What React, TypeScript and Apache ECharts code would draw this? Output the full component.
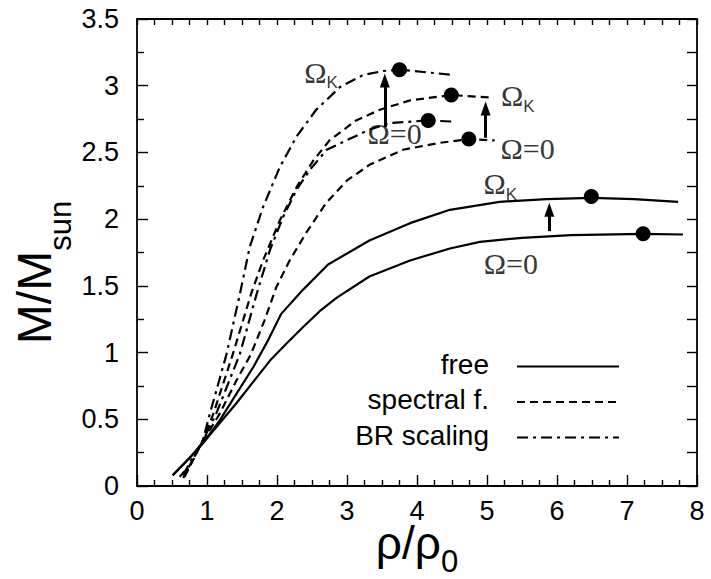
import React, { useEffect, useRef } from "react";
import * as echarts from "echarts";

// ---- data (x = rho/rho0, y = M/Msun) ----
const freeZero: number[][] = [
  [0.51, 0.08], [0.75, 0.21], [0.94, 0.32], [1.18, 0.47], [1.42, 0.62], [1.66, 0.78],
  [1.9, 0.94], [2.14, 1.07], [2.37, 1.19], [2.61, 1.31], [2.85, 1.41], [3.32, 1.57],
  [3.9, 1.69], [4.47, 1.78], [4.9, 1.83], [5.5, 1.86], [6.2, 1.88], [7.23, 1.89], [7.8, 1.885],
];
const freeKepler: number[][] = [
  [0.51, 0.08], [0.75, 0.21], [0.94, 0.32], [1.18, 0.49], [1.42, 0.69], [1.66, 0.89],
  [1.86, 1.08], [2.06, 1.29], [2.37, 1.47], [2.73, 1.66], [3.32, 1.84], [3.9, 1.97],
  [4.47, 2.07], [5.18, 2.13], [5.85, 2.15], [6.49, 2.16], [7.1, 2.15], [7.73, 2.13],
];
const spectralZero: number[][] = [
  [0.68, 0.07], [0.75, 0.14], [0.94, 0.34], [1.04, 0.42], [1.18, 0.54], [1.42, 0.79],
  [1.63, 0.99], [1.82, 1.24], [1.99, 1.49], [2.18, 1.69], [2.42, 1.9], [2.7, 2.12],
  [3.0, 2.29], [3.33, 2.41], [3.8, 2.52], [4.3, 2.57], [4.74, 2.6], [5.11, 2.59],
];
const spectralKepler: number[][] = [
  [0.61, 0.07], [0.75, 0.15], [0.94, 0.34], [1.09, 0.54], [1.37, 0.99], [1.63, 1.44],
  [1.8, 1.69], [2.04, 1.99], [2.28, 2.24], [2.52, 2.44], [2.75, 2.59], [3.13, 2.74],
  [3.47, 2.82], [3.9, 2.89], [4.49, 2.93], [5.09, 2.91],
];
const brZero: number[][] = [
  [0.66, 0.06], [0.8, 0.2], [0.94, 0.34], [1.13, 0.54], [1.47, 0.99], [1.71, 1.44],
  [1.9, 1.77], [2.09, 2.02], [2.28, 2.22], [2.47, 2.37], [2.71, 2.52], [2.99, 2.59],
  [3.32, 2.67], [3.61, 2.72], [4.16, 2.74], [4.56, 2.73],
];
const brKepler: number[][] = [
  [0.66, 0.08], [0.8, 0.22], [0.94, 0.34], [1.04, 0.54], [1.28, 0.99], [1.47, 1.44],
  [1.61, 1.79], [1.8, 2.09], [2.04, 2.39], [2.28, 2.62], [2.56, 2.82], [2.9, 2.99],
  [3.23, 3.08], [3.51, 3.11], [3.75, 3.12], [4.54, 3.08],
];
const maxima: number[][] = [
  [7.23, 1.89], [6.49, 2.17], [4.74, 2.6], [4.49, 2.93], [4.16, 2.74], [3.75, 3.12],
];
const arrows: number[][][] = [
  [[3.54, 2.69], [3.54, 3.04]],
  [[4.98, 2.61], [4.98, 2.83]],
  [[5.89, 1.91], [5.89, 2.07]],
];
const annotations = [
  { text: "ΩK", x: 2.63, y: 3.085 },
  { text: "Ω=0", x: 3.68, y: 2.64 },
  { text: "ΩK", x: 5.44, y: 2.91 },
  { text: "Ω=0", x: 5.58, y: 2.53 },
  { text: "ΩK", x: 5.19, y: 2.25 },
  { text: "Ω=0", x: 5.34, y: 1.67 },
];
const legendNames = ["free", "spectral f.", "BR scaling"];
const xTicks = { min: 0, max: 8, step: 1 };
const yTicks = { min: 0, max: 3.5, step: 0.5 };

const SANS = "Liberation Sans";
const SERIF = "Liberation Serif";
const SOLID: any = "solid";
const DASHED = [8, 5];
const DASHDOT = [11, 5, 3, 5];

export default function App() {
  const ref = useRef<HTMLDivElement>(null);
  useEffect(() => {
    if (!ref.current) return;
    const chart = echarts.init(ref.current, undefined, { renderer: "svg" });
    const axisLine = { show: true, onZero: false, lineStyle: { color: "#000", width: 1.8 } };
    const tickLine = { color: "#000", width: 1.4 };
    const lineSeries = (name: string, data: number[][], type: any) => ({
      name,
      type: "line",
      data,
      showSymbol: false,
      symbol: "none",
      smooth: false,
      clip: false,
      lineStyle: { color: "#000", width: 2.2, type },
      z: 3,
    });
    const legendStyles = [SOLID, DASHED, DASHDOT];
    const legendGraphics: any[] = [];
    legendNames.forEach((n, i) => {
      const cy = 364 + i * 35.5;
      legendGraphics.push({
        type: "text",
        x: 489,
        y: cy,
        style: { text: n, align: "right", verticalAlign: "middle", fontSize: 28, fontFamily: SANS, fill: "#000" },
      });
      legendGraphics.push({
        type: "line",
        shape: { x1: 517, y1: cy + 2.5, x2: 619, y2: cy + 2.5 },
        style: { stroke: "#000", lineWidth: 2.2, lineDash: legendStyles[i] === SOLID ? null : legendStyles[i] },
      });
    });

    chart.setOption({
      animation: false,
      backgroundColor: "#fff",
      grid: { left: 137, right: 14, top: 19, bottom: 93, containLabel: false, outerBoundsMode: "none" },
      xAxis: [
        {
          type: "value",
          min: xTicks.min,
          max: xTicks.max,
          interval: xTicks.step,
          position: "bottom",
          axisLine,
          axisTick: { show: true, inside: true, length: 11, lineStyle: tickLine },
          minorTick: { show: true, splitNumber: 4, length: 6, lineStyle: tickLine },
          axisLabel: { fontSize: 27, lineHeight: 27, color: "#000", fontFamily: SANS, margin: 11 },
          splitLine: { show: false },
          minorSplitLine: { show: false },
          name: "{a|ρ/ρ}{b|0}",
          nameLocation: "middle",
          nameMoveOverlap: false,
          nameGap: 34,
          nameTextStyle: {
            color: "#000",
            rich: {
              a: { fontSize: 46, lineHeight: 46, fontFamily: SANS, color: "#000", verticalAlign: "top" },
              b: { fontSize: 31, lineHeight: 57, fontFamily: SANS, color: "#000", verticalAlign: "bottom" },
            },
          },
        },
        {
          type: "value",
          min: xTicks.min,
          max: xTicks.max,
          interval: 0.25,
          position: "top",
          axisLine,
          axisTick: { show: true, inside: true, length: 6, lineStyle: tickLine },
          axisLabel: { show: false },
          splitLine: { show: false },
        },
      ],
      yAxis: [
        {
          type: "value",
          min: yTicks.min,
          max: yTicks.max,
          interval: yTicks.step,
          position: "left",
          axisLine,
          axisTick: { show: true, inside: true, length: 11, lineStyle: tickLine },
          minorTick: { show: true, splitNumber: 2, length: 7, lineStyle: tickLine },
          axisLabel: { fontSize: 27, color: "#000", fontFamily: SANS, margin: 18 },
          splitLine: { show: false },
          minorSplitLine: { show: false },
          name: "{a|M/M}{b|sun}",
          nameLocation: "middle",
          nameRotate: 90,
          nameMoveOverlap: false,
          nameGap: 61,
          nameTextStyle: {
            color: "#000",
            padding: [0, 40, 0, 0],
            rich: {
              a: { fontSize: 48, lineHeight: 48, fontFamily: SANS, color: "#000", verticalAlign: "top" },
              b: { fontSize: 31, lineHeight: 66, fontFamily: SANS, color: "#000", verticalAlign: "bottom" },
            },
          },
        },
        {
          type: "value",
          min: yTicks.min,
          max: yTicks.max,
          interval: 0.25,
          position: "right",
          axisLine,
          axisTick: { show: true, inside: true, length: 10, lineStyle: tickLine },
          axisLabel: { show: false },
          splitLine: { show: false },
        },
      ],
      series: [
        lineSeries("free Ω=0", freeZero, SOLID),
        lineSeries("free ΩK", freeKepler, SOLID),
        lineSeries("spectral f. Ω=0", spectralZero, DASHED),
        lineSeries("spectral f. ΩK", spectralKepler, DASHED),
        lineSeries("BR scaling Ω=0", brZero, DASHDOT),
        lineSeries("BR scaling ΩK", brKepler, DASHDOT),
        {
          name: "maximum mass",
          type: "scatter",
          data: maxima,
          symbol: "circle",
          symbolSize: 15,
          itemStyle: { color: "#000", opacity: 1 },
          z: 5,
          markLine: {
            silent: true,
            symbol: ["none", "triangle"],
            symbolSize: [10, 14],
            label: { show: false },
            lineStyle: { color: "#000", width: 3, type: "solid", opacity: 1 },
            data: arrows.map(([a, b]) => [{ coord: a }, { coord: b }]),
          },
        },
        {
          name: "labels",
          type: "scatter",
          symbolSize: 0,
          z: 6,
          data: annotations.map((a) => ({ value: [a.x, a.y], name: a.text })),
          label: {
            show: true,
            position: "inside",
            formatter: (p: any) => (p.name === "ΩK" ? "{o|Ω}{k|K}" : "{o|Ω=0}"),
            rich: {
              o: { fontFamily: SERIF, fontSize: 30, lineHeight: 30, color: "#000", verticalAlign: "top" },
              k: { fontFamily: SANS, fontSize: 17, lineHeight: 34, color: "#000", verticalAlign: "bottom" },
            },
          },
        },
      ],
      graphic: legendGraphics,
    });
    return () => chart.dispose();
  }, []);
  return (
    <div
      ref={ref}
      style={{ position: "fixed", left: 0, top: 0, width: 711, height: 579, background: "#fff" }}
    />
  );
}
